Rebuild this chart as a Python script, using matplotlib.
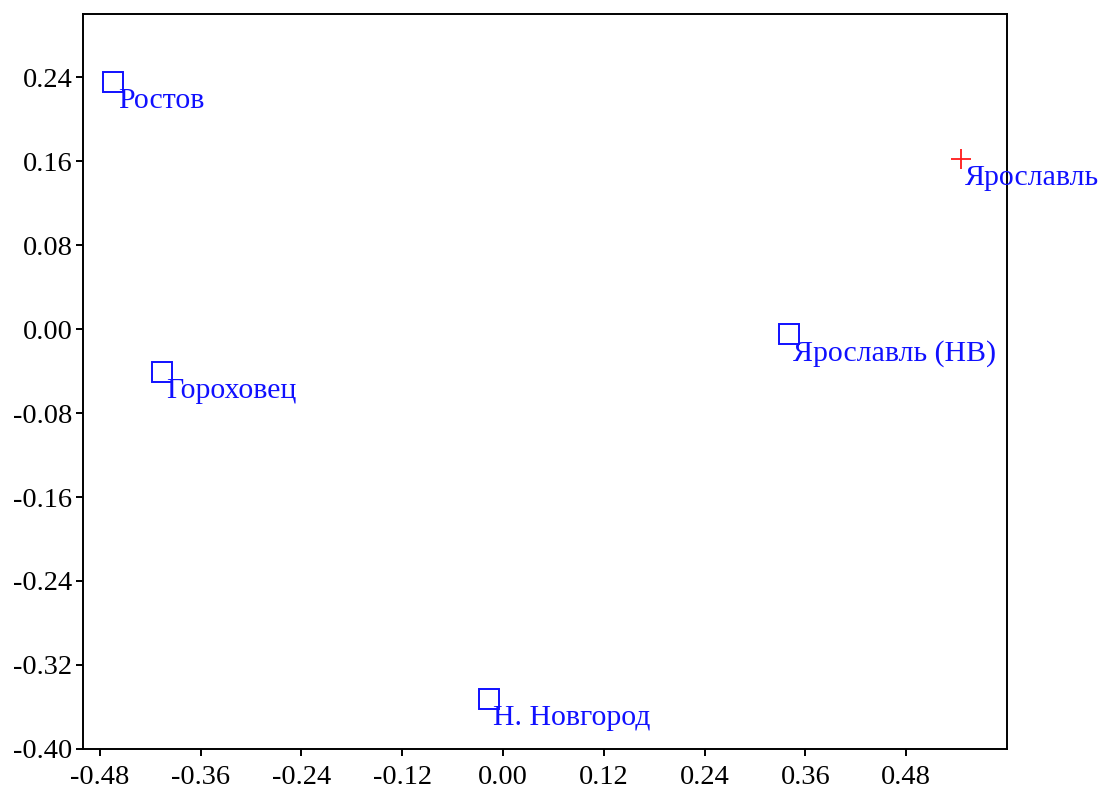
import matplotlib
matplotlib.use("Agg")
import matplotlib.pyplot as plt

plt.rcParams['font.family'] = ['Liberation Serif', 'DejaVu Serif']

# Object scores on the first two axes
cities = ["Ростов", "Ярославль", "Ярославль (НВ)", "Гороховец", "Н. Новгород"]
axis1 = [-0.464, 0.545, 0.340, -0.406, -0.017]
axis2 = [0.235, 0.162, -0.005, -0.041, -0.352]
groups = ["square", "plus", "square", "square", "square"]

x_ticks = [-0.48, -0.36, -0.24, -0.12, 0.00, 0.12, 0.24, 0.36, 0.48]
y_ticks = [-0.40, -0.32, -0.24, -0.16, -0.08, 0.00, 0.08, 0.16, 0.24]

fig = plt.figure(figsize=(11.04, 7.92), dpi=100)
ax = fig.add_axes([0.0752, 0.0543, 0.8369, 0.928])

for name, x, y, g in zip(cities, axis1, axis2, groups):
    if g == "square":
        ax.plot(x, y, marker="s", ms=14, mfc="none", mec="#1010ff",
                mew=1.4, linestyle="none", clip_on=False)
    else:
        ax.plot(x, y, marker="+", ms=14, mec="#ff1a1a", mew=1.3,
                linestyle="none", clip_on=False)
    ax.annotate(name, (x, y), xytext=(3.2, -18.8), textcoords="offset points",
                ha="left", va="baseline", color="#1010ff", fontsize=21.5,
                annotation_clip=False, clip_on=False)

ax.set_xlim(-0.50, 0.60)
ax.set_ylim(-0.40, 0.30)
ax.set_xticks(x_ticks)
ax.set_yticks(y_ticks)
ax.set_xticklabels([f"{v:.2f}" for v in x_ticks])
ax.set_yticklabels([f"{v:.2f}" for v in y_ticks])
ax.tick_params(axis="both", direction="out", length=5, width=1.4,
               labelsize=20.5, colors="black", pad=2.5)
ax.tick_params(axis="x", pad=6.5)
ax.tick_params(top=False, right=False)
for sp in ax.spines.values():
    sp.set_linewidth(1.4)
    sp.set_color("black")

fig.savefig("out.png", dpi=100)
